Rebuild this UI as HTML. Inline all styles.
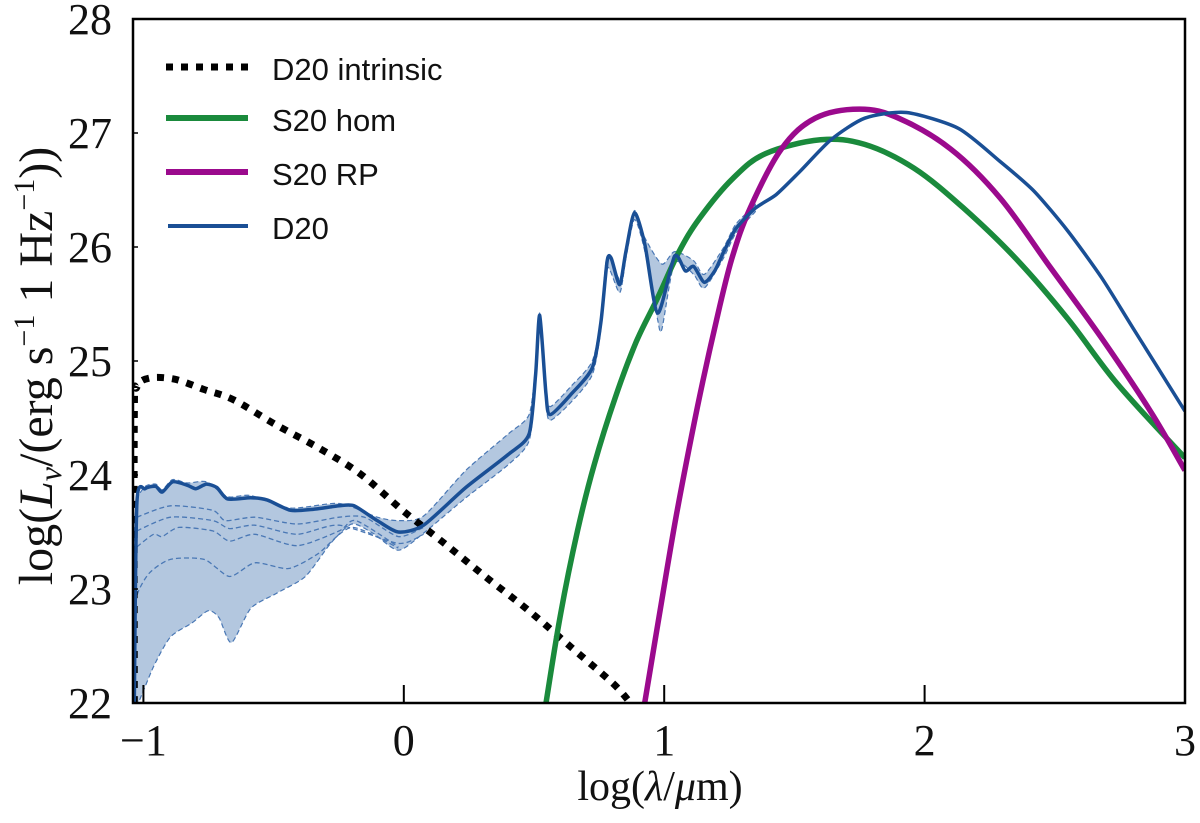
<!DOCTYPE html>
<html><head><meta charset="utf-8"><style>
html,body{margin:0;padding:0;background:#fff;}
svg{display:block;}
</style></head><body>
<svg id="chart" width="1200" height="823" xmlns="http://www.w3.org/2000/svg">
<rect x="0" y="0" width="1200" height="823" fill="#fff"/>
<g id="marks"></g>
<g id="axes"></g>
<g id="legend">
  <line x1="166" y1="67" x2="248" y2="67" stroke="#000" stroke-width="7" stroke-dasharray="7,8"/>
  <text x="272" y="80" font-family="Liberation Sans, sans-serif" font-size="31" fill="#111">D20 intrinsic</text>
  <line x1="166" y1="118" x2="248" y2="118" stroke="#1a8a3c" stroke-width="6"/>
  <text x="272" y="131" font-family="Liberation Sans, sans-serif" font-size="31" fill="#111">S20 hom</text>
  <line x1="166" y1="172" x2="248" y2="172" stroke="#9b0a8d" stroke-width="6"/>
  <text x="272" y="185" font-family="Liberation Sans, sans-serif" font-size="31" fill="#111">S20 RP</text>
  <line x1="168" y1="226" x2="248" y2="226" stroke="#1a4f95" stroke-width="4"/>
  <text x="272" y="239" font-family="Liberation Sans, sans-serif" font-size="31" fill="#111">D20</text>
</g>
<text x="660" y="800" text-anchor="middle" font-family="Liberation Serif, serif" font-size="42" fill="#111">log(<tspan font-style="italic">λ</tspan>/<tspan font-style="italic">μ</tspan>m)</text>
<text transform="translate(52,366) rotate(-90)" text-anchor="middle" font-family="Liberation Serif, serif" font-weight="normal" font-size="48" fill="#111">log(<tspan font-style="italic">L</tspan><tspan font-style="italic" font-size="32" dy="9">ν</tspan><tspan dy="-9">/(erg s</tspan><tspan font-size="30" dy="-18">−1</tspan><tspan dy="18"> 1 Hz</tspan><tspan font-size="30" dy="-18">−1</tspan><tspan dy="18">))</tspan></text>
</svg>
<script>
// Axis ranges
const xDomain = [-1.04, 3.0];
const yDomain = [22, 28];
const xTicks = [-1, 0, 1, 2, 3];
const xTickLabels = ["−1", "0", "1", "2", "3"];
const yTicks = [22, 23, 24, 25, 26, 27, 28];
const yTickLabels = ["22", "23", "24", "25", "26", "27", "28"];

// D20 intrinsic (dotted)
const intrX = [-1.035, -1.035, -1.025, -0.977, -0.88, -0.767, -0.654, -0.491, -0.329, -0.167, -0.005, 0.156, 0.318, 0.48, 0.642, 0.804, 0.87];
const intrY = [22.0, 24.5, 24.77, 24.85, 24.84, 24.75, 24.66, 24.44, 24.24, 24.01, 23.69, 23.40, 23.10, 22.81, 22.49, 22.17, 22.0];

// S20 hom (green)
const homX = [0.546, 0.602, 0.667, 0.731, 0.812, 0.893, 0.974, 1.055, 1.135, 1.263, 1.39, 1.6, 1.77, 1.96, 2.15, 2.35, 2.55, 2.74, 3.0];
const homY = [22.0, 22.78, 23.51, 24.09, 24.68, 25.17, 25.55, 25.95, 26.25, 26.6, 26.82, 26.94, 26.9, 26.69, 26.34, 25.9, 25.37, 24.8, 24.15];

// S20 RP (magenta)
const rpX = [0.925, 0.982, 1.047, 1.128, 1.2, 1.26, 1.33, 1.45, 1.58, 1.75, 1.9, 2.1, 2.29, 2.48, 2.68, 2.87, 3.0];
const rpY = [22.0, 22.78, 23.65, 24.6, 25.35, 25.9, 26.34, 26.86, 27.13, 27.21, 27.13, 26.86, 26.43, 25.83, 25.2, 24.55, 24.04];

// D20 (blue main line)
const d20X = [-1.035, -1.025, -0.993, -0.953, -0.928, -0.888, -0.831, -0.799, -0.758, -0.718, -0.677, -0.588, -0.524, -0.435, -0.346, -0.248, -0.191, -0.102, -0.021, 0.076, 0.238, 0.401, 0.481, 0.506, 0.522, 0.546, 0.562, 0.643, 0.724, 0.757, 0.781, 0.797, 0.829, 0.853, 0.886, 0.926, 0.975, 1.04, 1.081, 1.113, 1.154, 1.194, 1.227, 1.275, 1.35, 1.43, 1.52, 1.64, 1.77, 1.93, 2.13, 2.29, 2.42, 2.55, 2.68, 2.80, 3.0];
const d20Y = [22.0, 23.76, 23.88, 23.90, 23.85, 23.94, 23.91, 23.88, 23.92, 23.89, 23.79, 23.80, 23.78, 23.69, 23.70, 23.73, 23.73, 23.60, 23.50, 23.56, 23.89, 24.18, 24.36, 24.88, 25.40, 24.71, 24.53, 24.71, 24.94, 25.34, 25.88, 25.90, 25.67, 25.96, 26.30, 26.02, 25.42, 25.92, 25.79, 25.83, 25.69, 25.79, 25.95, 26.16, 26.34, 26.46, 26.66, 26.94, 27.13, 27.18, 27.04, 26.75, 26.49, 26.14, 25.73, 25.29, 24.56];

// D20 model spread band
const bandUpX = [-1.035, -1.025, -0.993, -0.953, -0.928, -0.888, -0.831, -0.758, -0.677, -0.588, -0.435, -0.248, -0.102, -0.021, 0.076, 0.238, 0.401, 0.481, 0.506, 0.522, 0.546, 0.562, 0.643, 0.724, 0.757, 0.781, 0.829, 0.853, 0.886, 0.926, 0.991, 1.04, 1.113, 1.154, 1.227, 1.275, 1.35];
const bandUpY = [23.5, 23.78, 23.90, 23.92, 23.87, 23.96, 23.93, 23.94, 23.81, 23.82, 23.71, 23.75, 23.63, 23.60, 23.64, 24.04, 24.36, 24.53, 24.95, 25.42, 24.76, 24.60, 24.78, 25.00, 25.38, 25.92, 25.72, 26.00, 26.32, 26.08, 25.85, 25.96, 25.88, 25.76, 25.99, 26.20, 26.37];
const bandLoX = [-1.035, -1.02, -0.961, -0.896, -0.815, -0.751, -0.71, -0.662, -0.588, -0.491, -0.378, -0.281, -0.2, -0.119, -0.021, 0.076, 0.238, 0.401, 0.481, 0.506, 0.522, 0.546, 0.562, 0.643, 0.724, 0.757, 0.781, 0.829, 0.853, 0.886, 0.926, 0.975, 0.991, 1.04, 1.113, 1.154, 1.227, 1.275, 1.35];
const bandLoY = [22.0, 22.0, 22.32, 22.58, 22.70, 22.81, 22.75, 22.53, 22.83, 22.96, 23.11, 23.40, 23.57, 23.49, 23.34, 23.49, 23.80, 24.09, 24.30, 24.80, 25.30, 24.64, 24.48, 24.64, 24.88, 25.28, 25.82, 25.60, 25.90, 26.24, 25.96, 25.36, 25.28, 25.86, 25.76, 25.64, 25.90, 26.12, 26.31];

// Intermediate dashed models
const dash1X = [-1.025, -0.896, -0.734, -0.685, -0.572, -0.41, -0.248, -0.151, -0.021, 0.076];
const dash1Y = [23.63, 23.73, 23.69, 23.60, 23.63, 23.57, 23.63, 23.63, 23.46, 23.54];
const dash2X = [-1.025, -0.896, -0.734, -0.669, -0.572, -0.41, -0.248, -0.021, 0.076];
const dash2Y = [23.51, 23.63, 23.60, 23.53, 23.56, 23.48, 23.56, 23.40, 23.48];
const dash3X = [-1.025, -0.961, -0.928, -0.864, -0.734, -0.669, -0.572, -0.41, -0.248, -0.184, -0.021];
const dash3Y = [23.37, 23.48, 23.46, 23.54, 23.51, 23.42, 23.48, 23.38, 23.51, 23.60, 23.37];
const dash4X = [-1.035, -1.025, -0.977, -0.896, -0.767, -0.669, -0.572, -0.443, -0.329, -0.2, -0.021];
const dash4Y = [22.6, 22.94, 23.14, 23.26, 23.26, 23.11, 23.23, 23.18, 23.31, 23.54, 23.36];

const PL = 133, PR = 1185, PT = 19, PB = 703;
function sx(v){ return PL + (v - xDomain[0]) / (xDomain[1] - xDomain[0]) * (PR - PL); }
function sy(v){ return PB - (v - yDomain[0]) / (yDomain[1] - yDomain[0]) * (PB - PT); }
function toPts(xs, ys){ return xs.map((x,i)=>[sx(x), sy(ys[i])]); }
function smoothPath(P, k, move){
  let d = (move ? 'M' : 'L') + P[0][0].toFixed(1)+','+P[0][1].toFixed(1);
  for (let i=0;i<P.length-1;i++){
    const p0 = P[Math.max(0,i-1)], p1 = P[i], p2 = P[i+1], p3 = P[Math.min(P.length-1,i+2)];
    const c1x = p1[0] + (p2[0]-p0[0])*k, c1y = p1[1] + (p2[1]-p0[1])*k;
    const c2x = p2[0] - (p3[0]-p1[0])*k, c2y = p2[1] - (p3[1]-p1[1])*k;
    d += ' C'+c1x.toFixed(1)+','+c1y.toFixed(1)+' '+c2x.toFixed(1)+','+c2y.toFixed(1)+' '+p2[0].toFixed(1)+','+p2[1].toFixed(1);
  }
  return d;
}
const NS = 'http://www.w3.org/2000/svg';
const marks = document.getElementById('marks');
const axes = document.getElementById('axes');

const clip = document.createElementNS(NS,'clipPath');
clip.setAttribute('id','plotclip');
const cr = document.createElementNS(NS,'rect');
cr.setAttribute('x',PL); cr.setAttribute('y',PT); cr.setAttribute('width',PR-PL); cr.setAttribute('height',PB-PT);
clip.appendChild(cr);
document.getElementById('chart').appendChild(clip);
marks.setAttribute('clip-path','url(#plotclip)');

// band
const band = document.createElementNS(NS,'path');
const up = toPts(bandUpX, bandUpY);
const lo = toPts(bandLoX, bandLoY).reverse();
band.setAttribute('d', smoothPath(up, 0.12, true) + ' ' + smoothPath(lo, 0.12, false) + ' Z');
band.setAttribute('fill','#b3c7df');
band.setAttribute('stroke','#4a78b5');
band.setAttribute('stroke-width','1.2');
band.setAttribute('stroke-dasharray','5,3');


marks.appendChild(band);

function addLine(xs, ys, color, w, dash, name, k){
  const p = document.createElementNS(NS,'path');
  p.setAttribute('d', smoothPath(toPts(xs, ys), k, true));
  p.setAttribute('fill','none');
  p.setAttribute('stroke', color);
  p.setAttribute('stroke-width', w);
  p.setAttribute('stroke-linejoin','round');
  if (dash) p.setAttribute('stroke-dasharray', dash);
  
  
  marks.appendChild(p);
}
addLine(dash1X, dash1Y, '#4a78b5', 1.3, '5,3', 'd20-model-line-1', 0.12);
addLine(dash2X, dash2Y, '#4a78b5', 1.3, '5,3', 'd20-model-line-2', 0.12);
addLine(dash3X, dash3Y, '#4a78b5', 1.3, '5,3', 'd20-model-line-3', 0.12);
addLine(dash4X, dash4Y, '#4a78b5', 1.3, '5,3', 'd20-model-line-4', 0.12);
addLine(intrX, intrY, '#000', 7, '7,8', 'd20-intrinsic-line', 0.16);
addLine(homX, homY, '#1a8a3c', 5.5, null, 's20-hom-line', 0.17);
addLine(rpX, rpY, '#9b0a8d', 5.5, null, 's20-rp-line', 0.17);
addLine(d20X, d20Y, '#1a4f95', 3.5, null, 'd20-line', 0.12);

// frame
const frame = document.createElementNS(NS,'rect');
frame.setAttribute('x',PL); frame.setAttribute('y',PT);
frame.setAttribute('width',PR-PL); frame.setAttribute('height',PB-PT);
frame.setAttribute('fill','none'); frame.setAttribute('stroke','#000'); frame.setAttribute('stroke-width','2.5');


axes.appendChild(frame);

xTicks.forEach((t,i)=>{
  const X = sx(t);
  const l = document.createElementNS(NS,'line');
  l.setAttribute('x1',X); l.setAttribute('x2',X); l.setAttribute('y1',PB); l.setAttribute('y2',PB-18);
  l.setAttribute('stroke','#000'); l.setAttribute('stroke-width','2');
  
  
  axes.appendChild(l);
  const tx = document.createElementNS(NS,'text');
  tx.setAttribute('x', X); tx.setAttribute('y', 755);
  tx.setAttribute('text-anchor','middle');
  tx.setAttribute('font-family','Liberation Serif, serif');
  tx.setAttribute('font-size','44');
  tx.setAttribute('fill','#111');
  tx.textContent = xTickLabels[i];
  
  
  axes.appendChild(tx);
});
yTicks.forEach((t,i)=>{
  const Y = sy(t);
  const l = document.createElementNS(NS,'line');
  l.setAttribute('x1',PL); l.setAttribute('x2',PL+5); l.setAttribute('y1',Y); l.setAttribute('y2',Y);
  l.setAttribute('stroke','#000'); l.setAttribute('stroke-width','1.5');
  
  
  axes.appendChild(l);
  const tx = document.createElementNS(NS,'text');
  tx.setAttribute('x', 112); tx.setAttribute('y', Y + 15);
  tx.setAttribute('text-anchor','end');
  tx.setAttribute('font-family','Liberation Serif, serif');
  tx.setAttribute('font-size','44');
  tx.setAttribute('fill','#111');
  tx.textContent = yTickLabels[i];
  
  
  axes.appendChild(tx);
});
</script>
</body></html>
